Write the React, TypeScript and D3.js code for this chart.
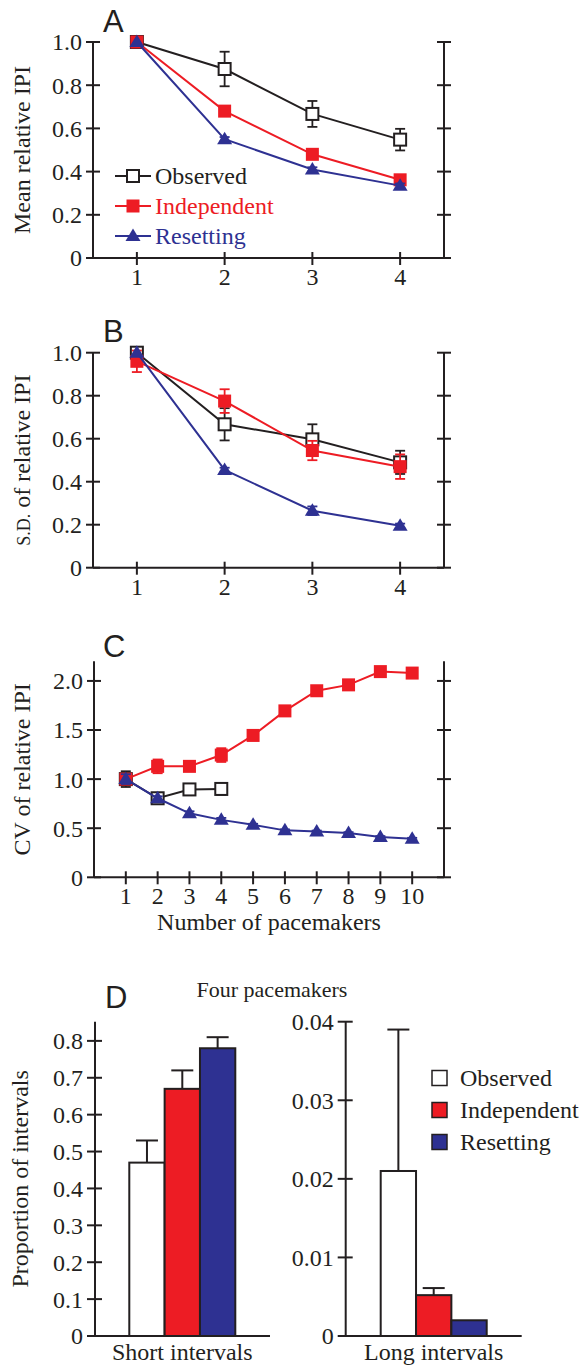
import React from "react";
import * as d3 from "d3";

const SERIF = "'Liberation Serif', 'Times New Roman', serif";
const SANS = "'Liberation Sans', Arial, sans-serif";
const BLACK = "#231f20";
const RED = "#ed1c24";
const BLUE = "#2e3192";

// panel A / B: 1-4 pacemakers
const pacemakersAB = [1, 2, 3, 4];
const meanObserved = [1.0, 0.875, 0.667, 0.548];
const meanObservedErr = [0, 0.08, 0.06, 0.05];
const meanIndependent = [1.0, 0.68, 0.48, 0.362];
const meanIndependentErr = [0, 0.015, 0.01, 0.01];
const meanResetting = [1.0, 0.55, 0.41, 0.335];
const meanResettingErr = [0, 0.01, 0.01, 0.01];

const sdObserved = [1.0, 0.667, 0.597, 0.49];
const sdObservedErr = [0.01, 0.075, 0.07, 0.054];
const sdIndependent = [0.96, 0.775, 0.545, 0.47];
const sdIndependentErr = [0.05, 0.055, 0.045, 0.057];
const sdResetting = [1.0, 0.455, 0.265, 0.195];
const sdResettingErr = [0, 0.01, 0.02, 0.01];

// panel C: 1-10 pacemakers
const pacemakersC = [1, 2, 3, 4, 5, 6, 7, 8, 9, 10];
const cvObserved = [1.0, 0.805, 0.895, 0.9];
const cvObservedErr = [0.08, 0.02, 0.04, 0.06];
const cvIndependent = [1.0, 1.13, 1.13, 1.245, 1.445, 1.695, 1.9, 1.96, 2.095, 2.08];
const cvIndependentErr = [0, 0.07, 0.03, 0.07, 0.02, 0.02, 0.02, 0.02, 0.02, 0.02];
const cvResetting = [1.0, 0.805, 0.652, 0.585, 0.535, 0.478, 0.466, 0.45, 0.41, 0.392];
const cvResettingErr = [0.05, 0.02, 0.02, 0.02, 0.01, 0.01, 0.01, 0.01, 0.01, 0.01];

// panel D: four pacemakers
const seriesNames = ["Observed", "Independent", "Resetting"];
const seriesColors = ["#ffffff", RED, BLUE];
const shortValues = [0.47, 0.67, 0.78];
const shortErr = [0.06, 0.05, 0.03];
const longValues = [0.021, 0.0052, 0.002];
const longErr = [0.018, 0.0009, 0];

const ticksAB = [0, 0.2, 0.4, 0.6, 0.8, 1.0];
const ticksC = [0, 0.5, 1.0, 1.5, 2.0];
const ticksShort = [0, 0.1, 0.2, 0.3, 0.4, 0.5, 0.6, 0.7, 0.8];
const ticksLong = [0, 0.01, 0.02, 0.03, 0.04];

const fmt1 = (d: number) => (d === 0 ? "0" : d3.format(".1f")(d));
const fmt2 = (d: number) => (d === 0 ? "0" : d3.format(".2f")(d));

type Kind = "open" | "square" | "triangle";
type Series = { name: string; color: string; kind: Kind; xs: number[]; values: number[]; errors: number[] };

function Marker({ kind, color, cx, cy }: { kind: Kind; color: string; cx: number; cy: number }) {
  if (kind === "open")
    return <rect x={cx - 6} y={cy - 6} width={12} height={12} fill="#fff" stroke={color} strokeWidth={2} />;
  if (kind === "square") return <rect x={cx - 6.5} y={cy - 6.5} width={13} height={13} fill={color} />;
  return <path d={`M${cx},${cy - 7.5}L${cx + 7.5},${cy + 5}L${cx - 7.5},${cy + 5}Z`} fill={color} />;
}

function LinePanel(props: {
  x: d3.ScaleLinear<number, number>;
  y: d3.ScaleLinear<number, number>;
  yTicks: number[];
  fmt: (d: number) => string;
  xTicks: number[];
  series: Series[];
  letter: string;
  letterY: number;
  title: React.ReactNode;
}) {
  const { x, y, yTicks, fmt, xTicks, series, letter, letterY, title } = props;
  const [xl, xr] = x.range();
  const [yb, yt] = y.range();
  const line = d3
    .line<[number, number]>()
    .x((d) => x(d[0]))
    .y((d) => y(d[1]));
  return (
    <g>
      <text x={103} y={letterY} fontFamily={SANS} fontSize={31} fill={BLACK}>
        {letter}
      </text>
      <g stroke={BLACK} strokeWidth={2} fill="none">
        <line x1={xl} x2={xl} y1={yb} y2={yt} />
        <line x1={xr} x2={xr} y1={yb} y2={yt} />
        <line x1={xl} x2={xr} y1={yb} y2={yb} />
        {yTicks.map((t) => (
          <g key={t}>
            <line x1={xl - 7} x2={xl + 7} y1={y(t)} y2={y(t)} />
            <line x1={xr - 7} x2={xr + 7} y1={y(t)} y2={y(t)} />
          </g>
        ))}
        {xTicks.map((t) => (
          <line key={t} x1={x(t)} x2={x(t)} y1={yb - 6} y2={yb + 7} />
        ))}
      </g>
      <g fontFamily={SERIF} fontSize={24} fill={BLACK}>
        {yTicks.map((t) => (
          <text key={t} x={xl - 11} y={y(t)} dy="0.35em" textAnchor="end">
            {fmt(t)}
          </text>
        ))}
        {xTicks.map((t) => (
          <text key={t} x={x(t)} y={yb + 27} textAnchor="middle">
            {t}
          </text>
        ))}
        <text transform={`translate(30,${(yb + yt) / 2}) rotate(-90)`} textAnchor="middle">
          {title}
        </text>
      </g>
      {series.map((s) => {
        const pts = s.values.map((v, i) => [s.xs[i], v] as [number, number]);
        return (
          <g key={s.name}>
            <path d={line(pts) ?? ""} fill="none" stroke={s.color} strokeWidth={2} />
            {pts.map(([px, v], i) =>
              s.errors[i] > 0 ? (
                <g key={i} stroke={s.color} strokeWidth={1.8}>
                  <line x1={x(px)} x2={x(px)} y1={y(v - s.errors[i])} y2={y(v + s.errors[i])} />
                  <line x1={x(px) - 5} x2={x(px) + 5} y1={y(v - s.errors[i])} y2={y(v - s.errors[i])} />
                  <line x1={x(px) - 5} x2={x(px) + 5} y1={y(v + s.errors[i])} y2={y(v + s.errors[i])} />
                </g>
              ) : null
            )}
            {pts.map(([px, v], i) => (
              <Marker key={i} kind={s.kind} color={s.color} cx={x(px)} cy={y(v)} />
            ))}
          </g>
        );
      })}
    </g>
  );
}

function BarPanel(props: {
  y: d3.ScaleLinear<number, number>;
  axisX: number;
  axisEnd: number;
  band: d3.ScaleBand<string>;
  values: number[];
  errors: number[];
  ticks: number[];
  fmt: (d: number) => string;
  label: string;
}) {
  const { y, axisX, axisEnd, band, values, errors, ticks, fmt, label } = props;
  const [yb, yt] = y.range();
  const [b0, b1] = band.range();
  return (
    <g>
      {seriesNames.map((n, i) => {
        const bx = band(n) ?? 0;
        const cx = bx + band.bandwidth() / 2;
        return (
          <g key={n}>
            {errors[i] > 0 && (
              <g stroke={BLACK} strokeWidth={2}>
                <line x1={cx} x2={cx} y1={y(values[i])} y2={y(values[i] + errors[i])} />
                <line x1={cx - 11} x2={cx + 11} y1={y(values[i] + errors[i])} y2={y(values[i] + errors[i])} />
              </g>
            )}
            <rect
              x={bx}
              y={y(values[i])}
              width={band.bandwidth()}
              height={yb - y(values[i])}
              fill={seriesColors[i]}
              stroke={BLACK}
              strokeWidth={2}
            />
          </g>
        );
      })}
      <g stroke={BLACK} strokeWidth={2}>
        <line x1={axisX} x2={axisX} y1={yb} y2={yt} />
        <line x1={axisX} x2={axisEnd} y1={yb} y2={yb} />
        {ticks.map((t) => (
          <line key={t} x1={axisX - 8} x2={axisX + 7} y1={y(t)} y2={y(t)} />
        ))}
      </g>
      <g fontFamily={SERIF} fontSize={24} fill={BLACK}>
        {ticks.map((t) => (
          <text key={t} x={axisX - 12} y={y(t)} dy="0.35em" textAnchor="end">
            {fmt(t)}
          </text>
        ))}
        <text x={(b0 + b1) / 2} y={1360} textAnchor="middle">
          {label}
        </text>
      </g>
    </g>
  );
}

export default function App() {
  const xAB = d3.scaleLinear().domain([0.5, 4.5]).range([93, 444]);
  const yA = d3.scaleLinear().domain([0, 1]).range([258, 42]);
  const yB = d3.scaleLinear().domain([0, 1]).range([567.7, 352.7]);
  const xC = d3.scaleLinear().domain([0, 11]).range([94, 444]);
  const yC = d3.scaleLinear().domain([0, 2.2]).range([877.3, 661.3]);
  const yShort = d3.scaleLinear().domain([0, 0.852]).range([1336, 1021.7]);
  const yLong = d3.scaleLinear().domain([0, 0.04]).range([1336, 1021.7]);
  const bandShort = d3.scaleBand<string>().domain(seriesNames).range([129.3, 235.3]);
  const bandLong = d3.scaleBand<string>().domain(seriesNames).range([380.7, 486.7]);

  const seriesA: Series[] = [
    { name: "Observed", color: BLACK, kind: "open", xs: pacemakersAB, values: meanObserved, errors: meanObservedErr },
    { name: "Independent", color: RED, kind: "square", xs: pacemakersAB, values: meanIndependent, errors: meanIndependentErr },
    { name: "Resetting", color: BLUE, kind: "triangle", xs: pacemakersAB, values: meanResetting, errors: meanResettingErr },
  ];
  const seriesB: Series[] = [
    { name: "Observed", color: BLACK, kind: "open", xs: pacemakersAB, values: sdObserved, errors: sdObservedErr },
    { name: "Independent", color: RED, kind: "square", xs: pacemakersAB, values: sdIndependent, errors: sdIndependentErr },
    { name: "Resetting", color: BLUE, kind: "triangle", xs: pacemakersAB, values: sdResetting, errors: sdResettingErr },
  ];
  const seriesC: Series[] = [
    { name: "Observed", color: BLACK, kind: "open", xs: pacemakersC.slice(0, 4), values: cvObserved, errors: cvObservedErr },
    { name: "Independent", color: RED, kind: "square", xs: pacemakersC, values: cvIndependent, errors: cvIndependentErr },
    { name: "Resetting", color: BLUE, kind: "triangle", xs: pacemakersC, values: cvResetting, errors: cvResettingErr },
  ];

  const legendRows = [176, 206, 236];

  return (
    <svg
      width={582}
      height={1366}
      style={{ position: "absolute", left: 0, top: 0, background: "#fff" }}
    >
      <LinePanel
        x={xAB}
        y={yA}
        yTicks={ticksAB}
        fmt={fmt1}
        xTicks={pacemakersAB}
        series={seriesA}
        letter="A"
        letterY={32}
        title="Mean relative IPI"
      />
      {seriesA.map((s, i) => (
        <g key={s.name}>
          <line x1={115} x2={151} y1={legendRows[i]} y2={legendRows[i]} stroke={s.color} strokeWidth={2} />
          <Marker kind={s.kind} color={s.color} cx={133} cy={legendRows[i]} />
          <text x={155} y={legendRows[i]} dy="0.35em" fontFamily={SERIF} fontSize={24} fill={s.color}>
            {s.name}
          </text>
        </g>
      ))}
      <LinePanel
        x={xAB}
        y={yB}
        yTicks={ticksAB}
        fmt={fmt1}
        xTicks={pacemakersAB}
        series={seriesB}
        letter="B"
        letterY={342}
        title={
          <>
            <tspan fontSize={18}>S.D.</tspan> of relative IPI
          </>
        }
      />
      <LinePanel
        x={xC}
        y={yC}
        yTicks={ticksC}
        fmt={fmt1}
        xTicks={pacemakersC}
        series={seriesC}
        letter="C"
        letterY={657}
        title="CV of relative IPI"
      />
      <text x={269} y={930} textAnchor="middle" fontFamily={SERIF} fontSize={24} fill={BLACK}>
        Number of pacemakers
      </text>

      <text x={105} y={1008} fontFamily={SANS} fontSize={31} fill={BLACK}>
        D
      </text>
      <text x={272} y={997} textAnchor="middle" fontFamily={SERIF} fontSize={22} fill={BLACK}>
        Four pacemakers
      </text>
      <text
        transform={`translate(28,${(1336 + 1021.7) / 2}) rotate(-90)`}
        textAnchor="middle"
        fontFamily={SERIF}
        fontSize={24}
        fill={BLACK}
      >
        Proportion of intervals
      </text>
      <BarPanel
        y={yShort}
        axisX={95}
        axisEnd={270}
        band={bandShort}
        values={shortValues}
        errors={shortErr}
        ticks={ticksShort}
        fmt={fmt1}
        label="Short intervals"
      />
      <BarPanel
        y={yLong}
        axisX={345.7}
        axisEnd={521.7}
        band={bandLong}
        values={longValues}
        errors={longErr}
        ticks={ticksLong}
        fmt={fmt2}
        label="Long intervals"
      />
      {seriesNames.map((n, i) => (
        <g key={n}>
          <rect
            x={432}
            y={1078 + i * 32 - 7.5}
            width={15}
            height={15}
            fill={seriesColors[i]}
            stroke={BLACK}
            strokeWidth={1.5}
          />
          <text x={460} y={1078 + i * 32} dy="0.35em" fontFamily={SERIF} fontSize={24} fill={BLACK}>
            {n}
          </text>
        </g>
      ))}
    </svg>
  );
}
